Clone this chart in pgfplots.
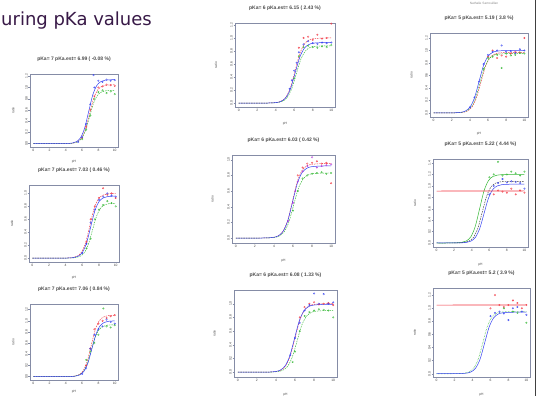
\documentclass[border=0pt]{standalone}
\usepackage{fontspec}
\setmainfont{Liberation Sans}
\newfontfamily\slidefont{DejaVu Sans}
\usepackage{pgfplots}
\pgfplotsset{compat=1.18}
\definecolor{axgray}{rgb}{0.52,0.55,0.65}
\definecolor{rred}{rgb}{0.95,0.2,0.25}
\definecolor{rgreen}{rgb}{0.2,0.72,0.2}
\definecolor{rblue}{rgb}{0.2,0.25,0.95}
\definecolor{rmag}{rgb}{0.7,0.2,0.85}
\definecolor{titlepurple}{rgb}{0.22,0.1,0.28}
\pgfplotsset{
 mini/.style={
  scale only axis, anchor=south west,
  xmin=-0.4, xmax=10.4, xtick={0,2,4,6,8,10},
  tick pos=left, tick align=outside, major tick length=1.5pt,
  every tick/.style={draw=axgray, line width=0.35pt},
  axis line style={draw=axgray, line width=0.45pt},
  ticklabel style={font=\fontsize{3.3}{4}\selectfont, text=black!75, inner sep=0.7pt},
  /pgf/number format/assume math mode=true,
  yticklabel style={rotate=90, anchor=south, /pgf/number format/fixed, /pgf/number format/fixed zerofill, /pgf/number format/precision=1},
  xticklabel style={anchor=north},
  xlabel={pH}, ylabel={ratio},
  label style={font=\fontsize{3.3}{4}\selectfont, text=black!70},
  xlabel style={at={(axis description cs:0.5,-0.2)}, anchor=center},
  ylabel style={at={(axis description cs:-0.19,0.5)}, anchor=center},
  title style={font=\fontsize{5}{6}\selectfont\bfseries, text=black!70, at={(axis description cs:0.5,1)}, anchor=south, yshift=3pt},
  scaled ticks=false,
 },
 cr/.style={color=rred, line width=0.45pt, dash pattern=on 1.5pt off 1pt, smooth, mark=none},
 cg/.style={color=rgreen, line width=0.45pt, dash pattern=on 1.5pt off 1pt, smooth, mark=none},
 cb/.style={color=rblue, line width=0.5pt, smooth, mark=none},
 ck/.style={color=black!80, line width=0.45pt, dash pattern=on 1.5pt off 1pt, smooth, mark=none},
 hr/.style={color=rred, line width=0.7pt, smooth, mark=none},
 pr/.style={only marks, mark=o, mark size=0.8pt, color=rred, mark options={line width=0.3pt}},
 pg/.style={only marks, mark=o, mark size=0.8pt, color=rgreen, mark options={line width=0.3pt}},
 pb/.style={only marks, mark=o, mark size=0.8pt, color=rblue, mark options={line width=0.3pt}},
 pm/.style={only marks, mark=o, mark size=0.8pt, color=rmag, mark options={line width=0.3pt}},
}
\begin{document}
\begin{tikzpicture}
\useasboundingbox (0,0) rectangle (536pt,396pt);
\fill[white] (0,0) rectangle (536pt,396pt);
\node[anchor=base west, inner sep=0pt, text=titlepurple, font=\slidefont\fontsize{18}{20}\selectfont] at (1pt,370pt) {uring pKa values};
\node[anchor=center, inner sep=0pt, text=black!45, font=\fontsize{3.2}{4}\selectfont] at (484pt,392.5pt) {Nathalie Samouillan};
\draw[black!75, line width=2pt] (535.5pt,0) -- (535.5pt,396pt);

% ---------------- L1
\begin{axis}[mini, at={(30pt,249pt)}, width=88pt, height=73pt, ymin=-0.06, ymax=1.24,
  ytick={0,0.2,0.4,0.6,0.8,1.0,1.2}, title={pKa= 7 pKa.est= 6.99 ( -0.08 \%)}]
\addplot[cr] coordinates {(0,0) (3.9,0.001) (4.9,0.010) (5.4,0.033) (5.9,0.096) (6.4,0.252) (6.9,0.525) (7.4,0.798) (7.9,0.954) (8.4,1.017) (8.9,1.040) (9.9,1.049) (10,1.049)};
\addplot[cg] coordinates {(0,0) (3.9,0.001) (4.9,0.0095) (5.4,0.029) (5.9,0.086) (6.4,0.228) (6.9,0.475) (7.4,0.722) (7.9,0.864) (8.4,0.921) (8.9,0.941) (9.9,0.949) (10,0.949)};
\addplot[cb] coordinates {(0,0) (3.8,0.001) (4.8,0.011) (5.3,0.035) (5.8,0.104) (6.3,0.274) (6.8,0.57) (7.3,0.866) (7.8,1.036) (8.3,1.105) (8.8,1.129) (9.8,1.139) (10,1.139)};
\addplot[pr] coordinates {(6,0.1) (6.5,0.3) (7,0.6) (7.5,0.85) (8,1.0) (8.5,1.02) (9,1.05) (9.5,1.04) (10,1.03)};
\addplot[pg] coordinates {(6,0.08) (6.5,0.25) (7,0.5) (7.5,0.8) (8,0.92) (8.5,0.95) (9,0.9) (9.5,0.93) (10,0.88)};
\addplot[pb] coordinates {(5.5,0.03) (6,0.12) (6.5,0.35) (7,0.7) (7.5,1.0) (8,1.12) (8.5,1.1) (9,1.14) (9.5,1.12) (10,1.13) (7.4,1.22)};
\end{axis}

% ---------------- L2
\begin{axis}[mini, at={(29pt,134pt)}, width=90pt, height=77pt, ymin=-0.06, ymax=1.13,
  ytick={0,0.2,0.4,0.6,0.8,1.0}, title={pKa= 7 pKa.est= 7.03 ( 0.46 \%)}]
\addplot[cr] coordinates {(0,0) (3.9,0.001) (4.9,0.01) (5.4,0.031) (5.9,0.091) (6.4,0.24) (6.9,0.5) (7.4,0.76) (7.9,0.909) (8.4,0.969) (8.9,0.99) (9.9,0.999) (10,0.999)};
\addplot[cg] coordinates {(0,0) (4.2,0.001) (5.2,0.0085) (5.7,0.026) (6.2,0.077) (6.7,0.204) (7.2,0.425) (7.7,0.646) (8.2,0.773) (8.7,0.824) (9.2,0.842) (10,0.848)};
\addplot[cb] coordinates {(0,0) (4,0.001) (5,0.0096) (5.5,0.03) (6,0.087) (6.5,0.23) (7,0.48) (7.5,0.73) (8,0.873) (8.5,0.93) (9,0.95) (10,0.959)};
\addplot[pr] coordinates {(6.5,0.25) (7,0.6) (7.5,0.8) (8,0.93) (8.5,1.08) (9,0.98) (9.5,1.0) (10,0.93)};
\addplot[pg] coordinates {(6.5,0.15) (7,0.3) (7.5,0.6) (8,0.75) (8.5,0.82) (9,0.88) (9.5,0.85) (10,0.8)};
\addplot[pb] coordinates {(6,0.08) (6.5,0.22) (7,0.55) (7.5,0.75) (8,0.9) (8.5,0.95) (9,1.0) (9.5,0.97) (10,0.95)};
\end{axis}

% ---------------- L3
\begin{axis}[mini, at={(30pt,16pt)}, width=88pt, height=76pt, ymin=-0.06, ymax=1.3,
  ytick={0,0.2,0.4,0.6,0.8,1.0,1.2}, title={pKa= 7 pKa.est= 7.06 ( 0.84 \%)},
  xlabel style={at={(axis description cs:0.5,-0.155)}}]
\addplot[cr] coordinates {(0,0) (4.1,0.001) (5.1,0.011) (5.6,0.034) (6.1,0.1) (6.6,0.264) (7.1,0.55) (7.6,0.836) (8.1,1.0) (8.6,1.066) (9.1,1.089) (10,1.099)};
\addplot[cg] coordinates {(0,0) (4.1,0.001) (5.1,0.0093) (5.6,0.029) (6.1,0.085) (6.6,0.223) (7.1,0.465) (7.6,0.707) (8.1,0.845) (8.6,0.901) (9.1,0.921) (10,0.929)};
\addplot[cb] coordinates {(0,0) (4.2,0.001) (5.2,0.01) (5.7,0.031) (6.2,0.091) (6.7,0.24) (7.2,0.5) (7.7,0.76) (8.2,0.909) (8.7,0.969) (9.2,0.99) (10,0.998)};
\addplot[pr] coordinates {(6.5,0.2) (7,0.5) (7.5,0.85) (8,0.95) (8.5,1.0) (9,1.05) (9.5,1.08) (10,1.1)};
\addplot[pg] coordinates {(6.5,0.3) (7,0.45) (7.5,0.6) (8,0.75) (8.6,1.22) (9,0.9) (9.5,0.88) (10,0.92)};
\addplot[pb] coordinates {(6,0.05) (6.5,0.15) (7,0.5) (7.5,0.75) (8,0.85) (8.5,0.9) (9,1.02) (9.5,0.98) (10,0.95)};
\end{axis}

% ---------------- M1
\begin{axis}[mini, at={(235pt,289pt)}, width=100pt, height=84pt, ymin=-0.06, ymax=1.23,
  ytick={0,0.2,0.4,0.6,0.8,1.0,1.2}, title={pKa= 6 pKa.est= 6.15 ( 2.43 \%)}]
\addplot[cr] coordinates {(0,0) (3.1,0.001) (4.1,0.01) (4.6,0.031) (5.1,0.091) (5.6,0.24) (6.1,0.5) (6.6,0.76) (7.1,0.909) (7.6,0.969) (8.1,0.99) (9.1,0.999) (10,1.0)};
\addplot[cg] coordinates {(0,0) (3.2,0.001) (4.2,0.0088) (4.7,0.027) (5.2,0.08) (5.7,0.211) (6.2,0.44) (6.7,0.669) (7.2,0.8) (7.7,0.853) (8.2,0.871) (9.2,0.879) (10,0.88)};
\addplot[cb] coordinates {(0,0) (3.1,0.001) (4.1,0.0093) (4.6,0.029) (5.1,0.085) (5.6,0.223) (6.1,0.465) (6.6,0.707) (7.1,0.845) (7.6,0.901) (8.1,0.921) (9.1,0.929) (10,0.93)};
\addplot[pr] coordinates {(6.5,0.85) (7,1.0) (7.5,1.02) (8,0.97) (8.5,1.05) (9,0.99) (9.5,1.0) (10,1.22)};
\addplot[pg] coordinates {(6,0.38) (6.5,0.72) (7,0.86) (7.5,0.88) (8,0.86) (8.5,0.85) (9,0.87) (9.5,0.86) (10,0.89)};
\addplot[pb] coordinates {(5.5,0.22) (5.75,0.35) (6,0.5) (6.25,0.62) (6.5,0.78) (7,0.9) (7.5,0.95) (8,0.92) (8.5,0.91) (9,0.93) (9.5,0.92) (10,0.93)};
\end{axis}

% ---------------- M2
\begin{axis}[mini, at={(232pt,153pt)}, width=103pt, height=88pt, ymin=-0.063, ymax=1.06,
  ytick={0,0.2,0.4,0.6,0.8,1.0}, title={pKa= 6 pKa.est= 6.03 ( 0.42 \%)}]
\addplot[cr] coordinates {(0,0) (2.95,0.001) (3.95,0.0095) (4.45,0.029) (4.95,0.086) (5.45,0.228) (5.95,0.475) (6.45,0.722) (6.95,0.864) (7.45,0.921) (7.95,0.941) (8.95,0.949) (10,0.95)};
\addplot[cg] coordinates {(0,0) (3.05,0.001) (4.05,0.0083) (4.55,0.026) (5.05,0.076) (5.55,0.199) (6.05,0.415) (6.55,0.631) (7.05,0.754) (7.55,0.804) (8.05,0.822) (9.05,0.829) (10,0.83)};
\addplot[cb] coordinates {(0,0) (2.95,0.001) (3.95,0.0092) (4.45,0.028) (4.95,0.084) (5.45,0.221) (5.95,0.46) (6.45,0.699) (6.95,0.836) (7.45,0.891) (7.95,0.911) (8.95,0.919) (10,0.92)};
\addplot[pr] coordinates {(6.5,0.8) (7,0.9) (7.5,0.95) (8,0.96) (8.5,0.98) (9,0.95) (9.5,0.96) (10,0.7)};
\addplot[pg] coordinates {(6,0.35) (6.5,0.6) (7,0.76) (7.5,0.8) (8,0.82) (8.5,0.83) (9,0.84) (9.5,0.82) (10,0.83)};
\addplot[pm] coordinates {(5.5,0.22) (6,0.45) (6.25,0.6) (6.5,0.72) (7,0.85) (7.5,0.92) (8,1.03) (8.5,0.9) (9,0.92) (9.5,0.93) (10,0.94)};
\end{axis}

% ---------------- M3
\begin{axis}[mini, at={(234pt,19pt)}, width=103pt, height=87pt, ymin=-0.07, ymax=1.2,
  ytick={0,0.2,0.4,0.6,0.8,1.0}, title={pKa= 6 pKa.est= 6.08 ( 1.33 \%)}]
\addplot[cr] coordinates {(0,0) (3,0.001) (4,0.01) (4.5,0.031) (5,0.091) (5.5,0.24) (6,0.5) (6.5,0.76) (7,0.909) (7.5,0.969) (8,0.99) (9,0.999) (10,1.0)};
\addplot[cg] coordinates {(0,0) (3.2,0.001) (4.2,0.009) (4.7,0.028) (5.2,0.082) (5.7,0.216) (6.2,0.45) (6.7,0.684) (7.2,0.818) (7.7,0.872) (8.2,0.891) (9.2,0.899) (10,0.9)};
\addplot[cb] coordinates {(0,0) (2.95,0.001) (3.95,0.0099) (4.45,0.031) (4.95,0.09) (5.45,0.238) (5.95,0.495) (6.45,0.752) (6.95,0.9) (7.45,0.959) (7.95,0.98) (8.95,0.989) (10,0.99)};
\addplot[pr] coordinates {(6.5,0.8) (7,0.95) (7.5,1.0) (8,1.02) (8.5,0.99) (9,1.0) (9.5,1.01) (10,0.98)};
\addplot[pg] coordinates {(5.75,0.15) (6,0.3) (6.5,0.6) (7,0.82) (7.5,0.88) (8,0.9) (8.5,0.92) (9,0.91) (9.5,0.9) (10,0.8)};
\addplot[pb] coordinates {(5.5,0.25) (6,0.5) (6.5,0.72) (7,0.9) (7.5,0.98) (8,1.15) (8.5,1.0) (9,1.14) (9.5,1.0) (10,1.02)};
\end{axis}

% ---------------- R1
\begin{axis}[mini, at={(430pt,279pt)}, width=98pt, height=84pt, ymin=-0.065, ymax=1.28,
  ytick={0,0.2,0.4,0.6,0.8,1.0,1.2}, title={pKa= 5 pKa.est= 5.19 ( 3.8 \%)}]
\addplot[cr] coordinates {(0,0) (2.2,0.001) (3.2,0.0097) (3.7,0.03) (4.2,0.088) (4.7,0.233) (5.2,0.485) (5.7,0.737) (6.2,0.882) (6.7,0.94) (7.2,0.96) (8.2,0.969) (10,0.97)};
\addplot[cg] coordinates {(0,0) (2.1,0.001) (3.1,0.0095) (3.6,0.029) (4.1,0.086) (4.6,0.228) (5.1,0.475) (5.6,0.722) (6.1,0.864) (6.6,0.921) (7.1,0.941) (8.1,0.949) (10,0.95)};
\addplot[cb] coordinates {(0,0) (2,0.001) (3,0.01) (3.5,0.031) (4,0.091) (4.5,0.24) (5,0.5) (5.5,0.76) (6,0.909) (6.5,0.969) (7,0.99) (8,0.999) (10,1.0)};
\addplot[pr] coordinates {(6,0.9) (6.5,1.0) (7,0.88) (7.5,0.92) (8,0.9) (8.5,0.95) (9,0.98) (9.5,0.97) (10,1.2)};
\addplot[pg] coordinates {(5.5,0.7) (6,0.88) (6.5,0.9) (7,0.93) (7.5,0.72) (8,0.95) (8.5,0.92) (9,0.93) (9.5,0.96) (10,0.95)};
\addplot[pb] coordinates {(4,0.09) (4.5,0.25) (5,0.5) (5.5,0.78) (6,0.93) (6.5,0.98) (7,1.0) (7.5,1.08) (8,0.98) (8.5,0.99) (9,0.96) (9.5,1.02) (10,1.0)};
\end{axis}

% ---------------- R2
\begin{axis}[mini, at={(433pt,149pt)}, width=95pt, height=88pt, ymin=-0.07, ymax=1.47,
  ytick={0,0.2,0.4,0.6,0.8,1.0,1.2,1.4}, title={pKa= 5 pKa.est= 5.22 ( 4.44 \%)}]
\addplot[color=rgreen, line width=0.5pt, smooth, mark=none] coordinates {(0,0) (1.9,0.001) (2.9,0.012) (3.4,0.037) (3.9,0.109) (4.4,0.288) (4.9,0.6) (5.4,0.912) (5.9,1.091) (6.4,1.163) (6.9,1.188) (7.9,1.199) (10,1.2)};
\addplot[ck] coordinates {(0,0) (2.2,0.001) (3.2,0.011) (3.7,0.033) (4.2,0.098) (4.7,0.259) (5.2,0.54) (5.7,0.821) (6.2,0.982) (6.7,1.047) (7.2,1.069) (8.2,1.079) (10,1.08)};
\addplot[cb] coordinates {(0,0) (2.4,0.001) (3.4,0.0103) (3.9,0.032) (4.4,0.094) (4.9,0.247) (5.4,0.515) (5.9,0.783) (6.4,0.936) (6.9,0.998) (7.4,1.02) (8.4,1.029) (10,1.03)};
\addplot[hr] coordinates {(0,0.908) (2.5,0.909) (5,0.911) (7.5,0.909) (10,0.912)};
\addplot[pr] coordinates {(6.5,0.85) (7,0.92) (7.5,0.9) (8,0.88) (8.5,0.95) (9,0.85) (9.5,0.92) (10,0.88)};
\addplot[pg] coordinates {(6,1.15) (6.5,1.2) (7,1.42) (7.5,1.18) (8,1.2) (8.5,1.25) (9,1.22) (9.5,1.18) (10,1.25)};
\addplot[pb] coordinates {(6,0.85) (6.5,1.0) (7,1.05) (7.5,1.12) (8,1.06) (8.5,1.08) (9,1.07) (9.5,1.05) (10,0.95)};
\end{axis}

% ---------------- R3
\begin{axis}[mini, at={(433pt,19pt)}, width=97pt, height=89pt, ymin=-0.05, ymax=1.31,
  ytick={0,0.2,0.4,0.6,0.8,1.0,1.2}, title={pKa= 5 pKa.est= 5.2 ( 3.9 \%)}]
\addplot[color=rgreen, line width=0.6pt, dash pattern=on 0.5pt off 1pt, smooth, mark=none] coordinates {(0,0) (2.15,0.001) (3.15,0.0095) (3.65,0.029) (4.15,0.086) (4.65,0.228) (5.15,0.475) (5.65,0.722) (6.15,0.864) (6.65,0.921) (7.15,0.941) (8.15,0.949) (10,0.95)};
\addplot[cb] coordinates {(0,0) (2.35,0.001) (3.35,0.0094) (3.85,0.029) (4.35,0.086) (4.85,0.226) (5.35,0.47) (5.85,0.714) (6.35,0.854) (6.85,0.911) (7.35,0.931) (8.35,0.939) (10,0.94)};
\addplot[hr] coordinates {(0,1.048) (2.5,1.049) (5,1.051) (7.5,1.049) (10,1.052)};
\addplot[pr] coordinates {(6,1.0) (6.5,1.2) (7,1.05) (7.5,1.02) (8,1.05) (8.5,1.12) (9,1.08) (9.5,1.0) (10,1.05)};
\addplot[pg] coordinates {(7.5,1.0) (8.5,0.95) (9,0.93) (10,0.78)};
\addplot[pb] coordinates {(6,0.88) (6.5,0.93) (7,0.95) (7.5,0.92) (8,0.82) (8.5,1.0) (9,1.02) (9.5,0.95) (10,0.9)};
\end{axis}
\end{tikzpicture}
\end{document}
